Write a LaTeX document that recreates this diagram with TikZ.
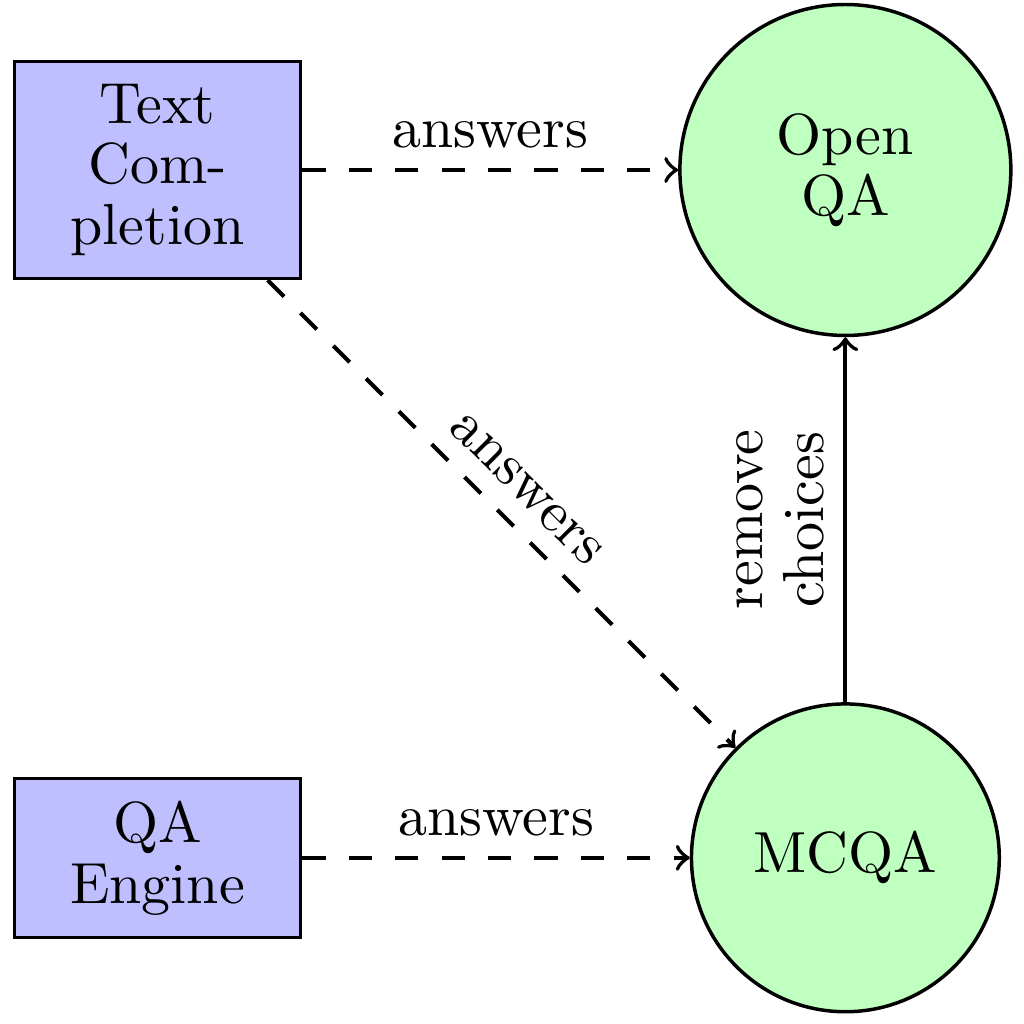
\documentclass[tikz,border=0pt]{standalone}
\usepackage{tikz}
\usetikzlibrary{positioning}

\begin{document}
\begin{tikzpicture}[
	node distance=118.6pt,
	on grid,
	source/.style={
		rectangle,
		draw=black,
		fill=blue!25,
		line width=0.6pt,
		inner ysep=3.85pt,
		text width=1.5cm,
		align=center,
		font=\fontsize{10}{10.5}\selectfont
	},
	qaform/.style={
		circle,
		draw=black,
		fill=green!25,
		line width=0.6pt,
		inner sep=3.85pt,
		text width=1.5cm,
		align=center,
		font=\fontsize{10}{10.5}\selectfont
	},
	link/.style={->, line width=0.7pt, dash pattern=on 4pt off 4pt}
	]
	
	\useasboundingbox (-27.16pt,29.31pt) rectangle (149.4pt,-147.2pt);
	
	\node[source] (tc) {Text\\Com-\\pletion};
	
	\node[qaform, right=of tc] (open) {Open\\QA};
	
	\node[source, below=of tc] (qa) {QA\\Engine};
	
	\node[qaform, below=of open] (mcqa) {MCQA};
	
	\draw[link] (tc) -- node[above] {answers} (open);
	
	\draw[link] (tc) -- node[above, sloped] {answers} (mcqa);
	
	\draw[link] (qa) -- node[above] {answers} (mcqa);
	
	\draw[->, line width=0.7pt] (mcqa) -- node[above, sloped, align=center, font=\fontsize{10}{10.5}\selectfont] {remove\\choices} (open);
	
\end{tikzpicture}
\end{document}
